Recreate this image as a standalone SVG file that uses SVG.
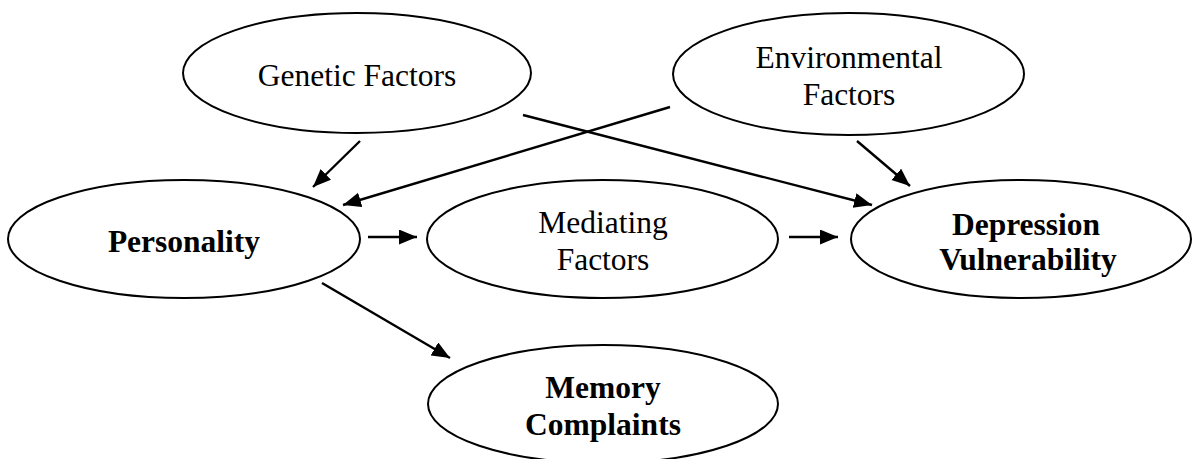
<svg xmlns="http://www.w3.org/2000/svg" width="1192" height="459" viewBox="0 0 1192 459">
<style>
  .node ellipse { fill: #ffffff; stroke: #000000; stroke-width: 2; }
  .lbl { font-family: "Liberation Serif", "Times New Roman", serif; font-size: 31.5px; fill: #000000; text-anchor: middle; }
  .b { font-weight: bold; }
  .edge { stroke: #000000; stroke-width: 2.4; fill: none; marker-end: url(#arr); }
</style>
<defs>
  <marker id="arr" markerUnits="userSpaceOnUse" markerWidth="19" markerHeight="16" refX="18" refY="7.5" orient="auto">
    <path d="M0,0 L18,7.5 L0,15 z" fill="#000000"/>
  </marker>
</defs>
<rect width="1192" height="459" fill="#ffffff"/>
<g id="connectors">
  <line class="edge" x1="360" y1="141" x2="313" y2="187"/>
  <line class="edge" x1="670" y1="107" x2="343" y2="205"/>
  <line class="edge" x1="523" y1="115" x2="872" y2="205"/>
  <line class="edge" x1="857" y1="141" x2="910" y2="186"/>
  <line class="edge" x1="368" y1="237" x2="417" y2="237"/>
  <line class="edge" x1="789" y1="237" x2="838" y2="237"/>
  <line class="edge" x1="322" y1="283" x2="450" y2="358"/>
</g>
<g id="genetic" class="node">
  <ellipse cx="357" cy="73" rx="174" ry="60"/>
  <text class="lbl" x="357" y="86">Genetic Factors</text>
</g>
<g id="environmental" class="node">
  <ellipse cx="848.5" cy="74" rx="175.5" ry="61"/>
  <text class="lbl" x="849" y="68">Environmental</text>
  <text class="lbl" x="849" y="105">Factors</text>
</g>
<g id="personality" class="node">
  <ellipse cx="184" cy="239" rx="176" ry="59"/>
  <text class="lbl b" x="184" y="252">Personality</text>
</g>
<g id="mediating" class="node">
  <ellipse cx="602.5" cy="239" rx="175.5" ry="59"/>
  <text class="lbl" x="603" y="233">Mediating</text>
  <text class="lbl" x="603" y="270">Factors</text>
</g>
<g id="depression" class="node">
  <ellipse cx="1021" cy="239" rx="170" ry="59"/>
  <text class="lbl b" x="1026" y="235">Depression</text>
  <text class="lbl b" x="1028" y="270">Vulnerability</text>
</g>
<g id="memory" class="node">
  <ellipse cx="603" cy="404" rx="175" ry="59"/>
  <text class="lbl b" x="603" y="398">Memory</text>
  <text class="lbl b" x="603" y="435">Complaints</text>
</g>
</svg>
